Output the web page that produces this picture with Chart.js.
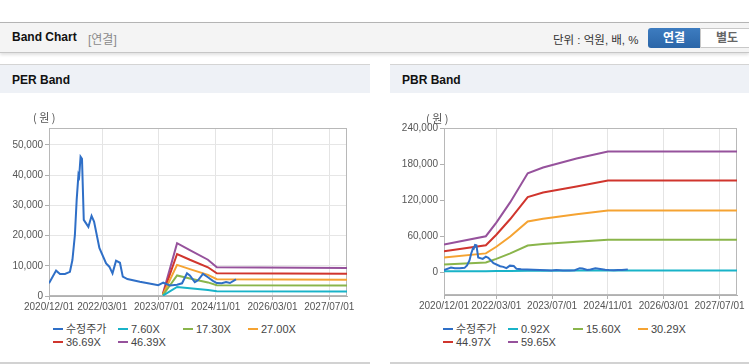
<!DOCTYPE html>
<html><head><meta charset="utf-8">
<script src="https://cdn.jsdelivr.net/npm/chart.js@4/dist/chart.umd.min.js"></script>
<style>
html,body{margin:0;padding:0;background:#fff;width:749px;height:364px;overflow:hidden;font-family:"Liberation Sans","Noto Sans CJK KR",sans-serif;}
.abs{position:absolute;}
#topbar{left:0;top:22px;width:749px;height:29px;background:#f4f4f4;border-top:1px solid #b4b4b4;border-bottom:1px solid #c6c6c6;box-shadow:0 2px 3px rgba(0,0,0,0.12);}
#title{left:12px;top:30px;font-size:12px;font-weight:bold;color:#111;}
#sub{left:88px;top:30px;font-size:12px;color:#8a8a8a;}
#unit{left:553px;top:31px;font-size:11.5px;color:#333;}
#btn1{left:648px;top:28px;width:52px;height:20px;background:linear-gradient(#3d7cc0,#2b66a8);border-radius:3px 0 0 3px;color:#fff;font-weight:bold;font-size:12px;text-align:center;line-height:20px;}
#btn2{left:700px;top:28px;width:52px;height:18px;background:#fff;border:1px solid #c8c8c8;border-radius:0 3px 3px 0;color:#666;font-weight:bold;font-size:12px;text-align:center;line-height:18px;}
.phead{top:64px;height:28px;background:#eef1f6;border-top:1px solid #d4d4d4;}
.ptitle{font-size:12px;font-weight:bold;color:#111;top:73px;}
.pbottom{top:362px;height:2px;background:#d2d2d2;}
.unitlbl{font-family:"Noto Sans CJK KR",sans-serif;font-size:11px;line-height:14px;color:#555;z-index:5;white-space:nowrap;}
.legend{display:grid;grid-template-columns:65px 65px 65px 65px;grid-auto-rows:13px;font-size:11px;color:#444;}
.legend div{white-space:nowrap;line-height:13px;}
.legend span.sw{display:inline-block;width:10px;height:2px;vertical-align:middle;margin-right:3px;position:relative;top:-1px;}
</style></head>
<body>
<div id="topbar" class="abs"></div>
<div id="title" class="abs">Band Chart</div>
<div id="sub" class="abs">[연결]</div>
<div id="unit" class="abs">단위 : 억원, 배, %</div>
<div id="btn1" class="abs">연결</div>
<div id="btn2" class="abs">별도</div>

<div class="abs phead" style="left:0;width:370px;"></div>
<div class="abs phead" style="left:390px;width:359px;"></div>
<div class="abs ptitle" style="left:12px;">PER Band</div>
<div class="abs ptitle" style="left:402px;">PBR Band</div>
<div class="abs pbottom" style="left:0;width:370px;"></div>
<div class="abs pbottom" style="left:390px;width:359px;"></div>

<canvas id="per" class="abs" width="370" height="226" style="left:0;top:94px;"></canvas>
<canvas id="pbr" class="abs" width="359" height="226" style="left:390px;top:94px;"></canvas>

<div class="abs unitlbl" style="left:33px;top:110px;">( 원 )</div>
<div class="abs unitlbl" style="left:426px;top:111px;">( 원 )</div>

<div id="perLegend" class="abs legend" style="left:53px;top:323px;"></div>
<div id="pbrLegend" class="abs legend" style="left:443px;top:323px;"></div>

<script>
// ---- data (x = months since 2020/12/01) ----
const xTickLabels = ['2020/12/01','2022/03/01','2023/07/01','2024/11/01','2026/03/01','2027/07/01'];
const xEndLabel = '2027/12/01';

const priceMonths = [0,2.0,3.1,4.5,5.9,6.6,7.3,7.8,8.3,8.5,8.9,9.3,9.8,11.1,12.0,12.7,14.2,16.1,17.0,17.9,18.9,20.0,20.8,22.1,25.6,29.4,30.8,32.2,34.1,36.1,37.5,38.9,39.7,41.1,42.0,43.4,44.8,46.2,47.3,48.7,49.9,51.0,52.7];
const priceValues = [4200,8400,7300,7300,8000,11900,20200,31800,40100,39500,46100,45400,25200,22900,26500,24600,15900,10800,9700,7500,11700,11000,6400,5600,4700,3900,3600,4400,3500,3700,4200,7500,6800,4600,5200,7300,6200,5000,4300,4200,4600,4300,5500];

const perLabels = ['수정주가','7.60X','17.30X','27.00X','36.69X','46.39X'];
const perBandMonths = [32.1,36.1,39.7,44.8,47.3,84];
const per760  = [120,3000,2550,2000,1560,1520];
const per1730 = [260,6800,5800,4500,3550,3470];
const per2700 = [400,10300,8900,7000,5550,5400];
const per3669 = [550,13900,12000,9500,7500,7350];
const per4639 = [700,17500,15200,12000,9500,9300];
const perYTicks = [0,10000,20000,30000,40000,50000];
const perYMax = 55600;

const pbrLabels = ['수정주가','0.92X','15.60X','30.29X','44.97X','59.65X'];
const pbrBandMonths = [0,12,15,19,24,28.4,38,47,84];
const pbr092  = [2200,2600,2800,3000,3300,3400,3500,3600,3600];
const pbr1560 = [13500,16800,23000,32000,45000,47500,51500,54500,54500];
const pbr3029 = [25000,32000,43000,60000,85000,89500,97000,103000,103000];
const pbr4497 = [35600,45600,63000,89000,125500,133000,142800,153000,153000];
const pbr5965 = [46700,60500,83000,117000,165000,174500,189500,201000,201000];
const pbrYTicks = [0,60000,120000,180000,240000];
const pbrYMin = -37000, pbrYMax = 240000;

const colors = ['#2f6fc7','#19b3c8','#8ab54b','#f5a332','#d0352d','#96529c'];

// ---- helpers ----
function monthsSince(s){const [y,m,d]=s.split('/').map(Number);return (y-2020)*12+(m-12)+(d-1)/30;}
const xTickPos = xTickLabels.map(monthsSince);
const xMax = monthsSince(xEndLabel);
const pts = (xs, ys) => xs.map((x,i)=>({x:x,y:ys[i]}));

const framePlugin = {id:'frame', beforeDatasetsDraw(chart){
  const {ctx, chartArea:a} = chart; ctx.save(); ctx.strokeStyle='#b8b8b8'; ctx.lineWidth=1;
  ctx.strokeRect(Math.round(a.left)+0.5, Math.round(a.top)+0.5, Math.round(a.right-a.left)-1, Math.round(a.bottom-a.top)-1); ctx.restore();}};

function makeChart(id, labels, bandMonths, bands, yTicks, yMin, yMax, yWidth, padRight, xHeight, hGrid){
  const datasets = [{label:labels[0], data:pts(priceMonths, priceValues)}]
    .concat(bands.map((b,i)=>({label:labels[i+1], data:pts(bandMonths,b)})))
    .map((d,i)=>Object.assign(d,{borderColor:colors[i], backgroundColor:colors[i], borderWidth:2, pointRadius:0, tension:0, fill:false}));
  new Chart(document.getElementById(id), {
    type:'line',
    data:{datasets},
    plugins:[framePlugin],
    options:{
      responsive:false, animation:false,
      layout:{padding:{left:0,right:padRight,top:34,bottom:0}},
      plugins:{legend:{display:false}, tooltip:{enabled:false}},
      scales:{
        x:{type:'linear', min:0, max:xMax,
          afterBuildTicks:s=>{s.ticks = xTickPos.map(v=>({value:v}));},
          afterFit:s=>{s.height = xHeight;},
          ticks:{autoSkip:false, maxRotation:0, padding:1, color:'#555', font:{family:'"Liberation Sans", sans-serif', size:10},
            callback:(v,i)=>xTickLabels[i]},
          grid:{color:'#e4e4e4', tickColor:'#b0b0b0', tickLength:4},
          border:{color:'#b0b0b0'}},
        y:{min:yMin, max:yMax,
          afterBuildTicks:s=>{s.ticks = yTicks.map(v=>({value:v}));},
          afterFit:s=>{s.width = yWidth;},
          ticks:{padding:2, color:'#555', font:{family:'"Liberation Sans", sans-serif', size:10},
            callback:v=>v.toLocaleString('en-US')},
          grid:{display:true, color: hGrid ? '#e6e6e6' : 'rgba(0,0,0,0)', tickColor:'#b0b0b0', tickLength:4},
          border:{color:'#b0b0b0'}}
      }
    }
  });
}

makeChart('per', perLabels, perBandMonths, [per760,per1730,per2700,per3669,per4639], perYTicks, 0, perYMax, 49, 23, 24, true);
makeChart('pbr', pbrLabels, pbrBandMonths, [pbr092,pbr1560,pbr3029,pbr4497,pbr5965], pbrYTicks, pbrYMin, pbrYMax, 54, 12, 25, false);

function legend(id, labels){
  document.getElementById(id).innerHTML = labels.map((l,i)=>
    '<div><span class="sw" style="background:'+colors[i]+'"></span>'+l+'</div>').join('');
}
legend('perLegend', perLabels);
legend('pbrLegend', pbrLabels);
</script>
</body></html>
